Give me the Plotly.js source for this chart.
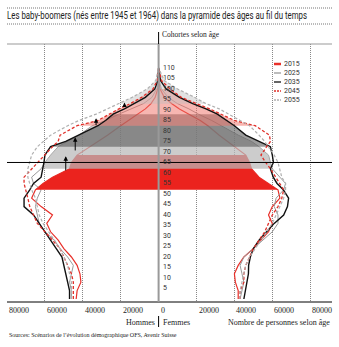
<!DOCTYPE html>
<html><head><meta charset="utf-8">
<script src="https://cdn.plot.ly/plotly-3.0.1.min.js"></script>
<style>html,body{margin:0;padding:0;background:#fff;}#chart{width:339px;height:347px;}</style>
</head><body><div id="chart"></div>
<script>
// ---------- DATA ----------
const ages = [0,4,8,12,16,20,24,28,32,36,40,44,48,52,55,58,62,65,68.5,72.5,75,78,82.5,85,88,90.5,93,96,100,104,110];
const years = ['2015','2025','2035','2045','2055'];
const men2015   = [43500,43000,41000,41500,43000,46000,50000,53000,57000,59000,56000,62000,67000,65000,61000,56000,47000,46000,43000,36000,32000,27000,20000,16000,11000,7000,4000,1800,500,100,0];
const women2015 = [42000,42000,40500,40000,42000,45000,50000,54000,58000,60000,58000,60000,64000,63000,58000,53000,49000,48000,46000,40000,36000,32000,26000,22000,16000,11000,7000,3000,800,100,0];
const men2025   = [46000,46000,47000,46000,45000,48000,52000,55000,60000,63000,64000,65000,64000,62000,66000,67000,62000,60000,57000,53000,48000,42000,35000,28000,21000,14000,8000,3500,1000,200,0];
const women2025 = [43000,44000,45000,44000,43000,45000,50000,55000,60000,63000,63000,61000,62000,66000,67000,64000,60000,59000,58000,53000,49000,42000,33000,28000,21000,16000,10000,5000,1500,300,0];
const men2035   = [47000,47000,48000,49000,50000,51000,54000,57000,60000,63000,66000,71000,71000,68000,66000,62000,61000,60500,60000,57000,49000,42000,32000,28000,24000,18000,13000,7000,2000,400,0];
const women2035 = [45000,45800,46500,47400,47500,48400,50000,53000,57000,61000,66000,68000,68600,65800,62500,60500,59000,60600,60000,59000,53000,46000,40000,36000,31000,25000,18000,11000,4000,1000,0];
const men2045   = [45000,45000,45000,46000,48000,50000,52000,56000,60000,64000,66000,68000,69000,70000,71000,71000,67000,64000,60000,56000,53000,52000,43000,32000,26000,21000,15000,9000,3000,700,0];
const women2045 = [43000,43000,45000,45000,46000,48000,50000,53000,56000,58000,60000,63000,65000,66000,64000,62000,59000,56500,54000,57000,59000,58500,51000,40000,33000,27000,20000,12000,6000,1500,0];
const men2055   = [46000,46000,46000,47000,48000,50000,52000,55000,58000,61000,63000,64000,65000,67000,68000,69000,69000,68000,67000,64000,61000,57000,48000,42000,33000,27000,21000,14000,6000,1500,0];
const women2055 = [43000,43000,44000,45000,46000,48000,51000,54000,57000,60000,62000,64000,66000,67000,67000,65000,64000,63000,61000,58000,56000,53000,48000,43000,37000,32000,25000,19000,10000,3000,0];
const cohortStart = [52,62,72.5,82.5,93];
const cohortEnd   = [68.5,82.5,88,100,110];
const ageTickVals = [5,10,15,20,25,30,35,40,45,50,55,60,65,70,75,80,85,90,95,100,105,110];
const xTickVals = [-80000,-60000,-40000,-20000,0,20000,40000,60000,80000];
const xTickText = ['80000','60000','40000','20000','0','20000','40000','60000','80000'];
const arrowX    = [-49000,-44000,-33000,-18000];
const arrowFrom = [60.5,70,82,91];
const arrowTo   = [68,77,86,93.5];

// ---------- STYLES ----------
const men = [men2015,men2025,men2035,men2045,men2055];
const women = [women2015,women2025,women2035,women2045,women2055];
const lineStyles = [
  {color:'#e8302a', width:1.2, dash:'solid'},
  {color:'#9a9a9a', width:1, dash:'solid'},
  {color:'#111111', width:1.4, dash:'solid'},
  {color:'#e0302a', width:1.3, dash:'3px,2px'},
  {color:'#b0b0b0', width:1.2, dash:'3px,2px'}
];
const fillColors = ['rgba(235,35,30,1)','rgba(185,185,185,0.72)','rgba(90,90,90,0.6)','rgba(240,110,100,0.5)','rgba(190,190,190,0.45)'];

function lineTraces(i){
  return [
    {x: men[i].map(v=>-v), y: ages, mode:'lines', line: lineStyles[i], hoverinfo:'skip', showlegend:false},
    {x: women[i], y: ages, mode:'lines', line: lineStyles[i], hoverinfo:'skip', showlegend:false}
  ];
}
function fillTrace(i){
  const idx = ages.map((a,j)=>j).filter(j=>ages[j]>=cohortStart[i] && ages[j]<=cohortEnd[i]);
  const xs = idx.map(j=>-men[i][j]).concat(idx.slice().reverse().map(j=>women[i][j]));
  const ys = idx.map(j=>ages[j]).concat(idx.slice().reverse().map(j=>ages[j]));
  return {x: xs, y: ys, mode:'none', fill:'toself', fillcolor: fillColors[i], line:{width:0}, hoverinfo:'skip', showlegend:false};
}

let traces = [];
traces = traces.concat(lineTraces(0), lineTraces(1));
for (let i=0;i<5;i++) traces.push(fillTrace(i));
traces = traces.concat(lineTraces(2), lineTraces(3), lineTraces(4));

// pixel helpers (plot area: x 7..332, y 44..302)
const PX = x => (x-7)/325;
const PY = y => (302-y)/258;

const sans = 'Roboto, Arial, sans-serif';
const serif = 'Liberation Serif, Times New Roman, serif';
const TITLE = 'Les baby-boomers (nés entre 1945 et 1964) dans la pyramide des âges au fil du temps';

const annotations = [];
annotations.push({xref:'paper', yref:'paper', x:PX(157), y:PY(16), xanchor:'center', yanchor:'middle', showarrow:false,
  width:304, text:TITLE, font:{family:sans, size:10, color:'#222'}});
annotations.push({xref:'x', yref:'paper', x:0, xshift:1, y:PY(35), xanchor:'left', yanchor:'middle', showarrow:false,
  text:'Cohortes selon âge', font:{family:serif, size:7.5, color:'#222'}});
ageTickVals.forEach(a=>annotations.push({xref:'x', yref:'y', x:0, xshift:2, y:a, xanchor:'left', yanchor:'middle', showarrow:false,
  text:String(a), font:{family:sans, size:7, color:'#333'}}));
xTickVals.forEach((v,k)=>annotations.push({xref:'x', yref:'paper', x:v, xshift:0, y:PY(310), xanchor:'left', yanchor:'middle', showarrow:false,
  text:xTickText[k], font:{family:serif, size:8, color:'#222'}}));
annotations.push({xref:'x', yref:'paper', x:0, xshift:-2, y:PY(322), xanchor:'right', yanchor:'middle', showarrow:false,
  text:'Hommes', font:{family:serif, size:8, color:'#222'}});
annotations.push({xref:'x', yref:'paper', x:0, xshift:2, y:PY(322), xanchor:'left', yanchor:'middle', showarrow:false,
  text:'Femmes', font:{family:serif, size:8, color:'#222'}});
annotations.push({xref:'paper', yref:'paper', x:1, y:PY(322), xanchor:'right', yanchor:'middle', showarrow:false,
  text:'Nombre de personnes selon âge', font:{family:serif, size:8, color:'#222'}});
annotations.push({xref:'paper', yref:'paper', x:PX(7), y:PY(335), xanchor:'left', yanchor:'middle', showarrow:false,
  text:'Sources: Scénarios de l\u2019évolution démographique OFS, Avenir Suisse', font:{family:serif, size:6, color:'#222'}});
const shapes = [];
years.forEach((yr,i)=>{
  const ypx = 64 + 9*i;
  annotations.push({xref:'paper', yref:'paper', x:PX(282), y:PY(ypx), xanchor:'left', yanchor:'middle', showarrow:false,
    text:yr, font:{family:sans, size:7, color:'#333'}});
  shapes.push({type:'line', xref:'paper', yref:'paper', x0:PX(274), x1:PX(281), y0:PY(ypx), y1:PY(ypx),
    line:{color:lineStyles[i].color, width: i===0?2.5:1.3, dash: i>=3?'2px,1px':'solid'}});
});
arrowX.forEach((x,k)=>annotations.push({xref:'x', yref:'y', axref:'x', ayref:'y', x:x, y:arrowTo[k], ax:x, ay:arrowFrom[k],
  showarrow:true, arrowhead:2, arrowsize:0.9, arrowwidth:1, arrowcolor:'#000', text:''}));

shapes.push({type:'line', xref:'paper', yref:'paper', x0:0, x1:1, y0:PY(8), y1:PY(8), line:{color:'#777', width:1, dash:'1px,1px'}});
shapes.push({type:'line', xref:'paper', yref:'paper', x0:0, x1:1, y0:PY(24), y1:PY(24), line:{color:'#777', width:1, dash:'1px,1px'}});
shapes.push({type:'line', xref:'paper', yref:'paper', x0:0, x1:1, y0:1, y1:1, line:{color:'#999', width:1}});
shapes.push({type:'line', xref:'paper', yref:'paper', x0:0, x1:1, y0:0, y1:0, line:{color:'#000', width:1}});
shapes.push({type:'line', xref:'paper', yref:'y', x0:0, x1:1, y0:65, y1:65, line:{color:'#000', width:1}, layer:'above'});
shapes.push({type:'line', xref:'x', yref:'paper', x0:0, x1:0, y0:0, y1:1, line:{color:'#999', width:2}, layer:'above'});
shapes.push({type:'line', xref:'x', yref:'paper', x0:0, x1:0, y0:1, y1:PY(32), line:{color:'#000', width:1}});
shapes.push({type:'line', xref:'x', yref:'paper', x0:0, x1:0, y0:PY(316), y1:PY(327), line:{color:'#000', width:1}});

const layout = {
  width:339, height:347,
  margin:{l:7, r:7, t:44, b:45},
  paper_bgcolor:'#fff', plot_bgcolor:'#fff',
  showlegend:false,
  xaxis:{range:[-80000,91500], tickvals:xTickVals, showticklabels:false, ticks:'', showgrid:true,
    gridcolor:'#888', griddash:'1px,1px', gridwidth:1, zeroline:false, showline:false, fixedrange:true},
  yaxis:{range:[-1.43,121.4], showgrid:false, zeroline:false, showline:false, showticklabels:false, ticks:'', fixedrange:true},
  annotations: annotations,
  shapes: shapes
};
Plotly.newPlot('chart', traces, layout, {staticPlot:true, displayModeBar:false}).then(function(gd){
  // condense the title text to the reference's width (text stays centred on its anchor)
  gd.querySelectorAll('text.annotation-text').forEach(function(t){
    if (t.textContent === TITLE) {
      t.setAttribute('textLength', '300');
      t.setAttribute('lengthAdjust', 'spacingAndGlyphs');
    }
  });
});
</script>
</body></html>
